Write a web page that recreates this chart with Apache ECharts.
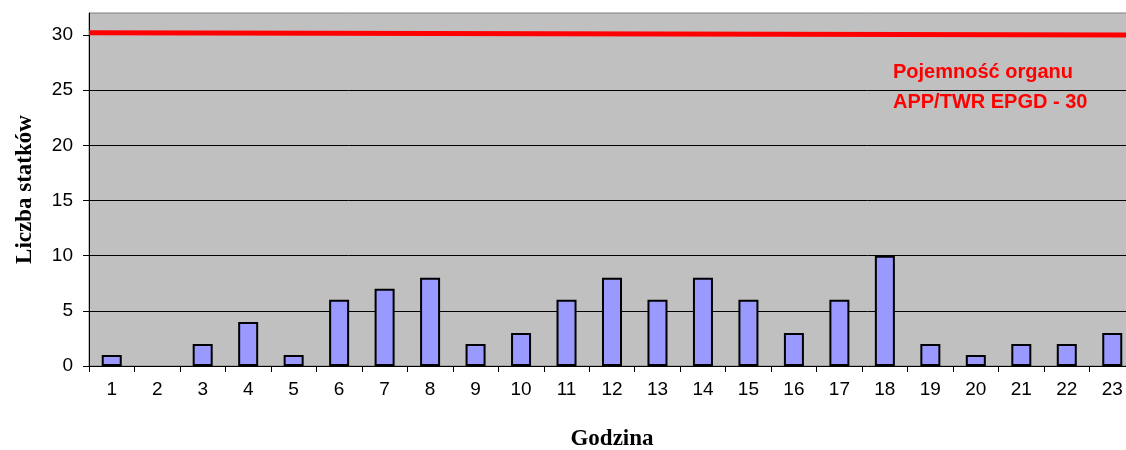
<!DOCTYPE html>
<html>
<head>
<meta charset="utf-8">
<script src="https://cdn.jsdelivr.net/npm/echarts@6/dist/echarts.min.js"></script>
<style>
  html, body { margin: 0; padding: 0; background: #ffffff; }
  #chart { width: 1126px; height: 450px; }
</style>
</head>
<body>
<div id="chart"></div>
<script>
// Hours of the day and number of aircraft per hour
const hours = ['1','2','3','4','5','6','7','8','9','10','11','12','13','14','15','16','17','18','19','20','21','22','23'];
const aircraftCount = [1, 0, 2, 4, 1, 6, 7, 8, 2, 3, 6, 8, 6, 8, 6, 3, 6, 10, 2, 1, 2, 2, 3];
// Capacity line of the APP/TWR unit, drawn across the whole plot (start, end)
const capacityLine = [[0, 30.2], [1, 30.0]];
const capacityText = ['Pojemność organu', 'APP/TWR EPGD - 30'];
const yTicks = [0, 5, 10, 15, 20, 25, 30];

const chart = echarts.init(document.getElementById('chart'), null, { renderer: 'canvas' });

const sans = 'Arial, "Liberation Sans", sans-serif';
const serif = '"Times New Roman", "Liberation Serif", serif';

// Empty hours get no outlined bar
const barData = aircraftCount.map(v => v === 0 ? { value: v, itemStyle: { borderWidth: 0 } } : v);

chart.setOption({
  animation: false,
  backgroundColor: '#ffffff',
  grid: {
    left: 89, top: 13, right: -9, bottom: 84,
    outerBoundsMode: 'none',
    containLabel: false,
    show: true,
    backgroundColor: '#c0c0c0',
    borderColor: '#808080',
    borderWidth: 1
  },
  xAxis: [
    {
      type: 'category',
      data: hours,
      boundaryGap: true,
      name: 'Godzina',
      nameLocation: 'middle',
      nameGap: 62,
      nameTextStyle: { fontFamily: serif, fontWeight: 'bold', fontSize: 23, color: '#000' },
      axisLine: { lineStyle: { color: '#000', width: 1 } },
      axisTick: { show: true, length: 6, alignWithLabel: false, lineStyle: { color: '#000' } },
      axisLabel: { fontFamily: sans, fontSize: 19, color: '#000', margin: 14 },
      splitLine: { show: false }
    },
    {
      type: 'value',
      min: 0, max: 1,
      show: false
    }
  ],
  yAxis: {
    type: 'value',
    min: 0, max: 32, interval: 5,
    name: 'Liczba statków',
    nameLocation: 'middle',
    nameRotate: 90,
    nameGap: 52,
    nameTextStyle: { fontFamily: serif, fontWeight: 'bold', fontSize: 23, color: '#000' },
    axisLine: { show: true, lineStyle: { color: '#000', width: 1 } },
    axisTick: { show: true, length: 6, lineStyle: { color: '#000' }, customValues: yTicks },
    axisLabel: { fontFamily: sans, fontSize: 19, color: '#000', margin: 16, customValues: yTicks },
    splitLine: { show: true, showMinLine: false, showMaxLine: false, lineStyle: { color: '#000', width: 1 } }
  },
  series: [
    {
      type: 'bar',
      data: barData,
      xAxisIndex: 0,
      barWidth: '44%',
      itemStyle: { color: '#9999ff', borderColor: '#000', borderWidth: 2 }
    },
    {
      type: 'line',
      data: capacityLine,
      xAxisIndex: 1,
      symbol: 'none',
      lineStyle: { color: '#ff0000', width: 5 },
      z: 5
    }
  ],
  graphic: [
    {
      type: 'text',
      left: 893, top: 62,
      style: { text: capacityText[0], fill: '#ff0000', font: 'bold 20px ' + sans }
    },
    {
      type: 'text',
      left: 893, top: 92,
      style: { text: capacityText[1], fill: '#ff0000', font: 'bold 20px ' + sans }
    }
  ]
});
</script>
</body>
</html>
